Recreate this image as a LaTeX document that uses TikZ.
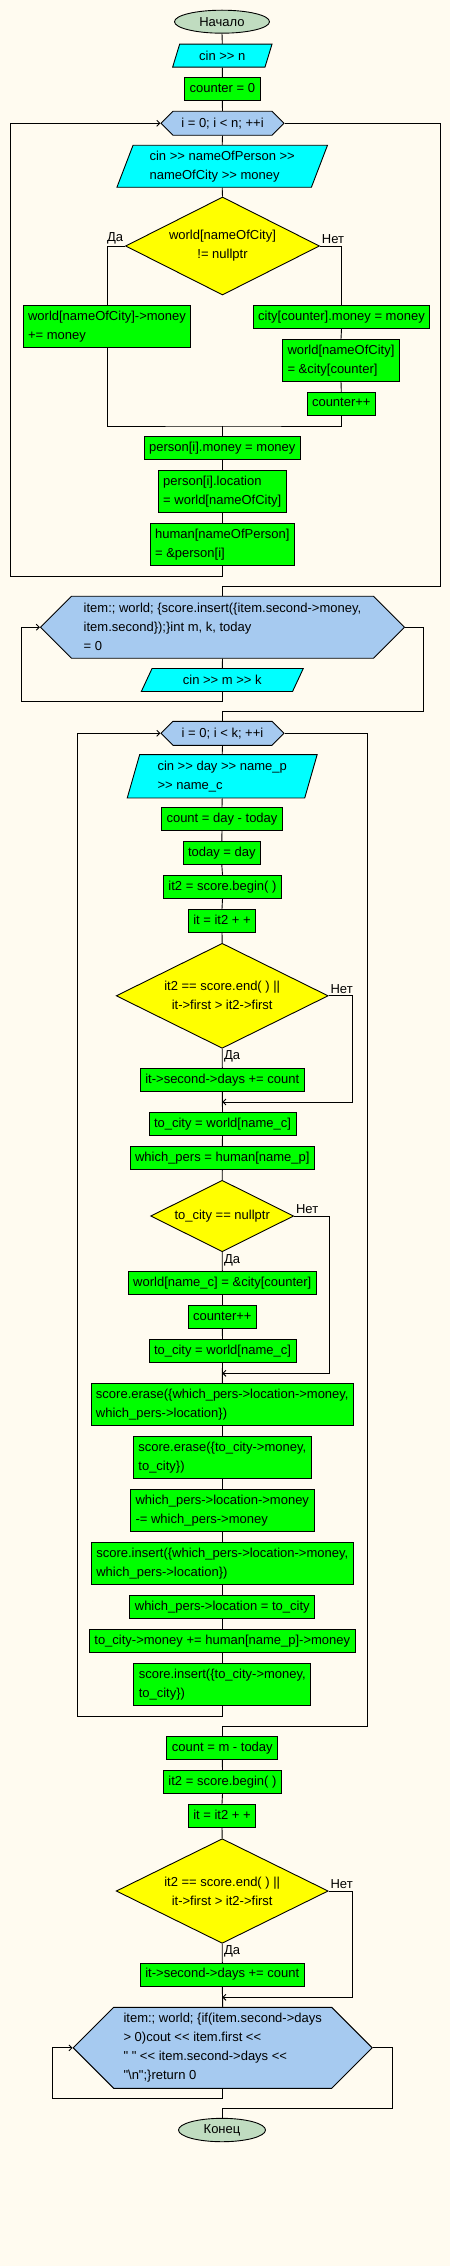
\documentclass[tikz,border=0pt]{standalone}
\usepackage{fontspec}
\setmainfont{Liberation Sans}[Ligatures=TeXOff]
\usepackage{xcolor}
\usepackage{tikz}
\usetikzlibrary{shapes.geometric,shapes.symbols,arrows.meta}
\definecolor{bgcream}{HTML}{FFFBF0}
\definecolor{hexblue}{HTML}{A6CAF0}
\definecolor{termgreen}{HTML}{C0DCC0}
\definecolor{procgreen}{HTML}{00FF00}
\definecolor{iocyan}{HTML}{00FFFF}
\definecolor{condyellow}{HTML}{FFFF00}
\tikzset{
	base/.style={draw,line width=0.9pt,font=\fontsize{13}{19}\selectfont,inner xsep=5pt},
	proc/.style={base,rectangle,fill=procgreen,text height=9.5pt,text depth=3pt,inner ysep=5.25pt},
	procm/.style={base,rectangle,fill=procgreen,align=left,minimum height=42pt,inner ysep=2pt},
	io/.style={base,trapezium,fill=iocyan,inner ysep=2pt,inner xsep=2pt},
	cond/.style={base,diamond,fill=condyellow,aspect=2,inner sep=0pt,align=center},
	loopbox/.style={base,signal,signal to=east and west,signal pointer angle=90,fill=hexblue,inner ysep=2pt,inner xsep=2pt},
	term/.style={base,ellipse,fill=termgreen,inner sep=0pt},
	lab/.style={font=\fontsize{13}{15}\selectfont,inner sep=1.5pt},
	>={Straight Barb[length=3pt,width=6pt]}
}
\begin{document}
\begin{tikzpicture}[x=1pt,y=-1pt,line width=0.9pt]
	\fill[bgcream] (0,0) rectangle (450,2266);
	\useasboundingbox (0,0) rectangle (450,2266);
	% first loop: reading people
	\node (start) at(222,21.7)[term,minimum width=95pt,minimum height=23pt]{Начало};
	\node (in1) at(222.3,55.7)[io,minimum width=80pt,minimum height=23pt,trapezium left angle=73,trapezium right angle=107]{cin >> n};
	\node (c0) at(222.3,88.8)[proc]{counter = 0};
	\node (loop1) at(222.5,123.3)[loopbox,minimum width=123pt,minimum height=24pt]{i = 0; i < n; ++i};
	\node (in2) at(222.2,166.3)[io,align=left,minimum width=204pt,minimum height=42pt,trapezium left angle=69,trapezium right angle=111]{cin >> nameOfPerson >>\\nameOfCity >> money};
	\node (if1) at(222.5,246)[cond,minimum width=194pt,minimum height=98pt]{world[nameOfCity]\\!= nullptr};
	\node (yes1) at(107,326.5)[procm]{world[nameOfCity]->money\\+= money};
	\node (no1) at(341.5,317)[proc]{city[counter].money = money};
	\node (no2) at(341,360.3)[procm]{world[nameOfCity]\\= \&city[counter]};
	\node (no3) at(341.3,403.7)[proc]{counter++};
	\coordinate (j1) at(222.3,426);
	\node (p1) at(222.3,448)[proc]{person[i].money = money};
	\node (p2) at(222.3,491.5)[procm]{person[i].location\\= world[nameOfCity]};
	\node (p3) at(222.3,544.3)[procm]{human[nameOfPerson]\\= \&person[i]};
	\node (loop2) at(222.5,627.2)[loopbox,align=left,minimum width=364pt,minimum height=62pt]{item:; world; \{score.insert(\{item.second->money,\\item.second\});\}int m, k, today\\= 0};
	\node (in3) at(222.3,680)[io,minimum width=116pt,minimum height=23pt,trapezium left angle=65,trapezium right angle=115]{cin >> m >> k};
	% second loop: moves
	\node (loop3) at(222.5,733.3)[loopbox,minimum width=123pt,minimum height=24pt]{i = 0; i < k; ++i};
	\node (in4) at(222.2,776.3)[io,align=left,minimum width=190pt,minimum height=42pt,trapezium left angle=74,trapezium right angle=106]{cin >> day >> name\_p\\>> name\_c};
	\node (b1) at(222,819)[proc]{count = day - today};
	\node (b2) at(221.8,853)[proc]{today = day};
	\node (b3) at(222.5,886.8)[proc]{it2 = score.begin( )};
	\node (b4) at(222,920.8)[proc]{it = it2 + +};
	\node (if2) at(222.2,995.8)[cond,minimum width=212pt,minimum height=105pt]{it2 == score.end( ) ||\\it->first > it2->first};
	\node (b5) at(222.3,1080)[proc]{it->second->days += count};
	\coordinate (m2) at(222.3,1102);
	\node (b6) at(222.5,1124)[proc]{to\_city = world[name\_c]};
	\node (b7) at(222.3,1158)[proc]{which\_pers = human[name\_p]};
	\node (if3) at(222.2,1216)[cond,minimum width=143pt,minimum height=71.4pt]{to\_city == nullptr};
	\node (b8) at(222.3,1283)[proc]{world[name\_c] = \&city[counter]};
	\node (b9) at(222.3,1316.8)[proc]{counter++};
	\node (b10) at(222.5,1350.8)[proc]{to\_city = world[name\_c]};
	\coordinate (m3) at(222.3,1373.3);
	\node (b11) at(222.3,1404.3)[procm]{score.erase(\{which\_pers->location->money,\\which\_pers->location\})};
	\node (b12) at(222.3,1457.3)[procm]{score.erase(\{to\_city->money,\\to\_city\})};
	\node (b13) at(222.3,1510.3)[procm]{which\_pers->location->money\\-= which\_pers->money};
	\node (b14) at(222.3,1563.3)[procm]{score.insert(\{which\_pers->location->money,\\which\_pers->location\})};
	\node (b15) at(222.3,1607)[proc]{which\_pers->location = to\_city};
	\node (b16) at(222.3,1640.8)[proc]{to\_city->money += human[name\_p]->money};
	\node (b17) at(222.3,1684.3)[procm]{score.insert(\{to\_city->money,\\to\_city\})};
	% output
	\node (b18) at(222.3,1747.8)[proc]{count = m - today};
	\node (b19) at(222.5,1782)[proc]{it2 = score.begin( )};
	\node (b20) at(222,1815.8)[proc]{it = it2 + +};
	\node (if4) at(222.2,1891)[cond,minimum width=212pt,minimum height=104.6pt]{it2 == score.end( ) ||\\it->first > it2->first};
	\node (b21) at(222.3,1974.7)[proc]{it->second->days += count};
	\coordinate (m4) at(222.3,1997.3);
	\node (loop4) at(222.7,2047.8)[loopbox,align=left,minimum width=299pt,minimum height=81pt]{item:; world; \{if(item.second->days\\> 0)cout << item.first <<\\" " << item.second->days <<\\"\textbackslash n";\}return 0};
	\node (end) at(222,2130)[term,minimum width=87pt,minimum height=23.4pt]{Конец};
	% straight links
	\foreach \a/\b in {start/in1,in1/c0,c0/loop1,loop1/in2,in2/if1,no1/no2,no2/no3,p1/p2,p2/p3,
		loop2/in3,loop3/in4,in4/b1,b1/b2,b2/b3,b3/b4,b4/if2,if2/b5,b5/b6,b6/b7,b7/if3,if3/b8,b8/b9,b9/b10,
		b10/b11,b11/b12,b12/b13,b13/b14,b14/b15,b15/b16,b16/b17,b18/b19,b19/b20,b20/if4,if4/b21,b21/loop4}
		\draw (\a.south) -- (\b.north);
	% branches
	\draw (if1.west) -| (yes1.north);
	\draw (if1.east) -| (no1.north);
	\draw (yes1.south) |- (j1) -| (no3.south);
	\draw (j1) -- (p1.north);
	\node[lab,anchor=south east] at(if1.west){Да};
	\node[lab,anchor=south west] at(if1.east){Нет};
	\draw[->] (if2.east) -| (352.3,1102) -- (m2);
	\node[lab,anchor=south west] at(if2.east){Нет};
	\node[lab,anchor=north west] at(if2.south){Да};
	\draw[->] (if3.east) -| (329.3,1373.3) -- (m3);
	\node[lab,anchor=south west] at(if3.east){Нет};
	\node[lab,anchor=north west] at(if3.south){Да};
	\draw[->] (if4.east) -| (352.3,1997.3) -- (m4);
	\node[lab,anchor=south west] at(if4.east){Нет};
	\node[lab,anchor=north west] at(if4.south){Да};
	% loops
	\draw[->] (p3.south) |- (10.7,576) |- (loop1.west);
	\draw (loop1.east) -| (440.7,586) -| (loop2.north);
	\draw[->] (in3.south) |- (21.3,701.3) |- (loop2.west);
	\draw (loop2.east) -| (423.3,711.3) -| (loop3.north);
	\draw[->] (b17.south) |- (77.3,1716.3) |- (loop3.west);
	\draw (loop3.east) -| (367.3,1726.3) -| (b18.north);
	\draw[->] (loop4.south) |- (52.3,2098) |- (loop4.west);
	\draw (loop4.east) -| (392.3,2108.3) -| (end.north);
\end{tikzpicture}
\end{document}
